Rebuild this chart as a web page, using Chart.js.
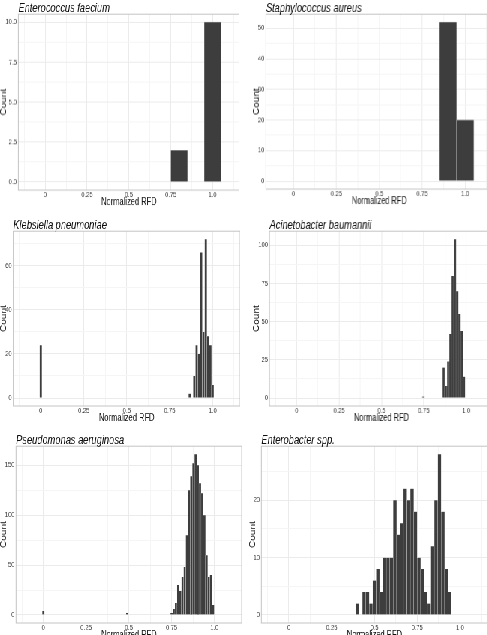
<!DOCTYPE html>
<html>
<head>
<meta charset="utf-8">
<script src="https://cdn.jsdelivr.net/npm/chart.js@4.4.1/dist/chart.umd.min.js"></script>
<style>
  html, body { margin: 0; padding: 0; background: #fff; overflow: hidden; }
  body { width: 487px; height: 635px; position: relative; }
  /* the reference figure is squeezed horizontally, so draw wide and squeeze */
  #sheet { position: absolute; left: 0; top: 0; width: 680px; height: 635px; transform: scaleX(0.75); transform-origin: 0 0; }
  #sheet canvas { position: absolute; }
</style>
</head>
<body>
<div id="sheet"></div>
<script>
// histogram bins (bin centres, normalized RFD) and counts per species
const efBins = [0.8, 0.9, 1.0];
const efCounts = [2, 0, 10];

const saBins = [0.9, 1.0];
const saCounts = [52, 20];

const kpBins = [0, 0.8667, 0.88, 0.8933, 0.9067, 0.92, 0.9333, 0.9467, 0.96, 0.9733, 0.9867, 1.0];
const kpCounts = [24, 2, 0, 10, 24, 20, 66, 30, 72, 28, 24, 6];

const abBins = [0.7467, 0.8667, 0.88, 0.8933, 0.9067, 0.92, 0.9333, 0.9467, 0.96, 0.9733, 0.9867];
const abCounts = [1, 20, 8, 24, 42, 80, 104, 70, 55, 44, 14];

const paBins = [0, 0.49, 0.75, 0.7628, 0.7756, 0.7884, 0.8012, 0.814, 0.8268, 0.8396, 0.8524, 0.8652,
  0.878, 0.8908, 0.9036, 0.9164, 0.9292, 0.942, 0.9548, 0.9676, 0.9804, 0.9932];
const paCounts = [4, 2, 2, 6, 12, 30, 24, 38, 48, 80, 125, 139, 152, 161, 150, 132, 122, 100, 60, 38, 40, 10];

const enBins = [0.40, 0.42, 0.44, 0.46, 0.48, 0.50, 0.52, 0.54, 0.56, 0.58, 0.60, 0.62, 0.64, 0.66,
  0.68, 0.70, 0.72, 0.74, 0.76, 0.78, 0.80, 0.82, 0.84, 0.86, 0.88, 0.90, 0.92, 0.94];
const enCounts = [2, 0, 4, 4, 2, 6, 8, 4, 10, 10, 10, 20, 14, 16, 22, 20, 22, 18, 10, 8, 4, 2, 12, 20, 28, 18, 8, 4];

// tick labels
const xTicks = [0, 0.25, 0.5, 0.75, 1];
const xLabels = ['0', '0.25', '0.5', '0.75', '1.0'];
const efYTicks = [0, 2.5, 5, 7.5, 10];
const efYLabels = ['0.0', '2.5', '5.0', '7.5', '10.0'];
const saYTicks = [0, 10, 20, 30, 40, 50];
const kpYTicks = [0, 20, 40, 60];
const abYTicks = [0, 25, 50, 75, 100];
const paYTicks = [0, 50, 100, 150];
const enYTicks = [0, 10, 20];

const FONT = '"Liberation Sans", Arial, sans-serif';

const panels = [
  {title: 'Enterococcus faecium', bins: efBins, counts: efCounts, yTicks: efYTicks, yLabels: efYLabels, L: 0, T: 2.8, W: 319.3, H: 204.7, yw: 24.4},
  {title: 'Staphylococcus aureus', bins: saBins, counts: saCounts, yTicks: saYTicks, L: 336.5, T: 2.8, W: 320.8, H: 203.7, yw: 17.4},
  {title: 'Klebsiella pneumoniae', bins: kpBins, counts: kpCounts, yTicks: kpYTicks, L: 0, T: 220.1, W: 319.9, H: 203.1, yw: 17.6},
  {title: 'Acinetobacter baumannii', bins: abBins, counts: abCounts, yTicks: abYTicks, L: 336.5, T: 220.1, W: 321.5, H: 203.1, yw: 22.2},
  {title: 'Pseudomonas aeruginosa', bins: paBins, counts: paCounts, yTicks: paYTicks, L: 0, T: 434.6, W: 322.3, H: 205.2, yw: 21.3},
  {title: 'Enterobacter spp.', bins: enBins, counts: enCounts, yTicks: enYTicks, L: 332, T: 434.6, W: 318.4, H: 205.2, yw: 16.3}
];

// panel border + left aligned italic title
const frame = {
  id: 'frame',
  afterDraw(chart, args, opts) {
    const {ctx, chartArea: a} = chart;
    ctx.save();
    ctx.strokeStyle = '#c4c4c4';
    ctx.lineWidth = 1;
    ctx.strokeRect(a.left, a.top, a.right - a.left, a.bottom - a.top);
    ctx.fillStyle = '#111111';
    ctx.font = 'italic 12.4px ' + FONT;
    ctx.textBaseline = 'middle';
    ctx.textAlign = 'left';
    ctx.fillText(opts.text, a.left, a.top - 6);
    ctx.restore();
  }
};

const near = (v, list) => list.findIndex(t => Math.abs(t - v) < 1e-6);

// major ticks plus the minor ones half way between them
const withMinor = (major, lo, hi) => {
  const step = major[1] - major[0];
  const out = [];
  for (let v = major[0] - step; v <= major[major.length - 1] + step + 1e-9; v += step / 2) {
    if (v >= lo && v <= hi) out.push(+v.toFixed(6));
  }
  return out;
};

const sheet = document.getElementById('sheet');

panels.forEach(p => {
  const cv = document.createElement('canvas');
  cv.width = Math.round(p.W);
  cv.height = Math.round(p.H);
  cv.style.left = p.L + 'px';
  cv.style.top = p.T + 'px';
  cv.style.width = p.W + 'px';
  cv.style.height = p.H + 'px';
  sheet.appendChild(cv);

  const maxC = Math.max(...p.counts);
  const yMin = -0.05 * maxC, yMax = 1.05 * maxC;
  const yLabels = p.yLabels || p.yTicks.map(String);

  new Chart(cv.getContext('2d'), {
    type: 'bar',
    data: {
      datasets: [{
        data: p.bins.map((b, i) => ({x: b, y: p.counts[i]})),
        backgroundColor: '#3d3d3d',
        borderColor: 'rgba(255,255,255,0.55)',
        borderWidth: 0.4,
        barPercentage: 1,
        categoryPercentage: 1
      }]
    },
    options: {
      responsive: false,
      animation: false,
      devicePixelRatio: 1,
      layout: {padding: {top: 11.2, left: 0, right: 0, bottom: 0}},
      plugins: {legend: {display: false}, tooltip: {enabled: false}, frame: {text: p.title}},
      scales: {
        x: {
          type: 'linear',
          min: -0.16,
          max: 1.16,
          offset: false,
          afterBuildTicks: s => { s.ticks = withMinor(xTicks, -0.16, 1.16).map(v => ({value: v})); },
          afterFit: s => { s.height = 17; },
          grid: {
            offset: false,
            drawTicks: false,
            color: c => near(c.tick.value, xTicks) >= 0 ? '#ebebeb' : '#f5f5f5',
            lineWidth: 1
          },
          border: {display: false},
          ticks: {
            autoSkip: false,
            maxRotation: 0,
            padding: 0.5,
            color: '#3a3a3a',
            font: {family: FONT, size: 7.8, lineHeight: 1},
            callback: v => { const k = near(v, xTicks); return k >= 0 ? xLabels[k] : ''; }
          },
          title: {display: true, text: 'Normalized RFD', color: '#111111', padding: 0,
            font: {family: FONT, size: 10, lineHeight: 1}}
        },
        y: {
          min: yMin,
          max: yMax,
          afterBuildTicks: s => { s.ticks = withMinor(p.yTicks, yMin, yMax).map(v => ({value: v})); },
          afterFit: s => { s.width = p.yw; },
          grid: {
            drawTicks: false,
            color: c => near(c.tick.value, p.yTicks) >= 0 ? '#ebebeb' : '#f5f5f5',
            lineWidth: 1
          },
          border: {display: false},
          ticks: {
            autoSkip: false,
            padding: 2,
            color: '#3a3a3a',
            font: {family: FONT, size: 7.8, lineHeight: 1},
            callback: v => { const k = near(v, p.yTicks); return k >= 0 ? yLabels[k] : ''; }
          },
          title: {display: true, text: 'Count', color: '#111111', padding: 0,
            font: {family: FONT, size: 10, lineHeight: 1}}
        }
      }
    },
    plugins: [frame]
  });
});
</script>
</body>
</html>
